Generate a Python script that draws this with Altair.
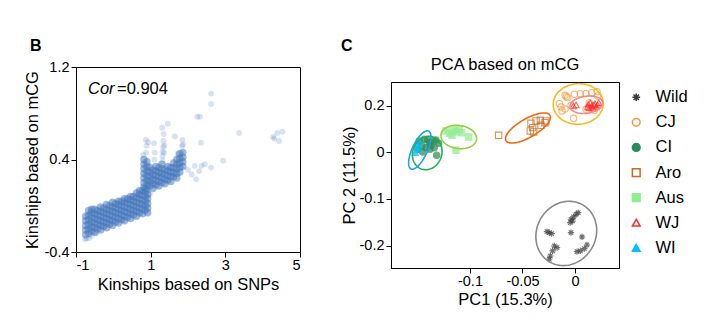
import altair as alt
import numpy as np
import pandas as pd

FONT = "Liberation Sans"

# ---------------- Panel B data (kinship scatter) ----------------
# dense band: x column -> y values
B_BAND_COLS = {
    -0.74: [-0.25, -0.21, -0.17, -0.13, -0.09],
    -0.66: [-0.24, -0.20, -0.16, -0.12, -0.08, -0.04],
    -0.58: [-0.22, -0.18, -0.14, -0.10, -0.06, -0.03],
    -0.50: [-0.23, -0.19, -0.15, -0.11, -0.07, -0.03],
    -0.42: [-0.20, -0.16, -0.12, -0.08, -0.04],
    -0.34: [-0.21, -0.17, -0.13, -0.09, -0.05, -0.01],
    -0.26: [-0.18, -0.14, -0.10, -0.06, -0.02],
    -0.18: [-0.19, -0.15, -0.11, -0.07, -0.03, 0.01],
    -0.10: [-0.16, -0.12, -0.08, -0.04, 0.00],
    -0.02: [-0.17, -0.13, -0.09, -0.05, -0.01, 0.03],
    0.06: [-0.14, -0.10, -0.06, -0.02, 0.02],
    0.14: [-0.15, -0.11, -0.07, -0.03, 0.01, 0.04],
    0.22: [-0.12, -0.08, -0.04, 0.00, 0.04],
    0.30: [-0.13, -0.09, -0.05, -0.01, 0.03, 0.06],
    0.38: [-0.10, -0.06, -0.02, 0.02, 0.06],
    0.46: [-0.11, -0.07, -0.03, 0.01, 0.05, 0.08],
    0.54: [-0.08, -0.04, 0.00, 0.04, 0.08],
    0.62: [-0.09, -0.05, -0.01, 0.03, 0.07, 0.11],
    0.70: [-0.06, -0.02, 0.02, 0.06, 0.10, 0.13],
    0.78: [-0.07, -0.03, 0.01, 0.05, 0.09, 0.13],
    0.86: [-0.04, 0.00, 0.04, 0.08, 0.12, 0.15],
    0.92: [-0.06, -0.02, 0.02, 0.06, 0.10],
    0.82: [0.16, 0.20, 0.24, 0.28, 0.32, 0.36, 0.40],
    0.90: [0.14, 0.18, 0.22, 0.26, 0.30, 0.34, 0.38],
    0.98: [0.17, 0.21, 0.25, 0.29, 0.33],
    1.06: [0.15, 0.19, 0.23, 0.27, 0.31],
    1.14: [0.18, 0.22, 0.26, 0.30, 0.34],
    1.22: [0.17, 0.21, 0.25, 0.29, 0.33],
    1.30: [0.20, 0.24, 0.28, 0.32, 0.36],
    1.38: [0.19, 0.23, 0.27, 0.31],
    1.46: [0.22, 0.26, 0.30, 0.34],
    1.54: [0.21, 0.25, 0.29, 0.33],
    1.62: [0.25, 0.29, 0.33, 0.37],
    1.70: [0.24, 0.28, 0.32, 0.36, 0.40],
    1.78: [0.29, 0.33, 0.37, 0.41, 0.45],
    1.86: [0.34, 0.38, 0.42, 0.46],
}
# sparse / outlying kinship pairs
B_SPARSE_X = [1.32, 1.32, 1.32, 1.33, 1.34, 1.35, 1.36, 1.37, 1.10, 1.11, 1.09,
              0.88, 0.89, 0.87, 0.80, 1.84, 1.85, 1.72, 2.00, 2.18, 2.45, 2.62,
              2.22, 2.94, 2.36, 2.10, 2.30, 2.62, 2.62, 2.25, 2.32, 1.46, 1.31,
              1.87, 2.35, 3.37, 4.28, 4.39, 4.53, 4.44, 4.31, 0.93, 1.65,
              -0.76, -0.72, -0.65, -0.58, -0.45, 0.95, 0.98]
B_SPARSE_Y = [0.39, 0.43, 0.47, 0.51, 0.56, 0.62, 0.46, 0.52, 0.40, 0.46, 0.54,
              0.46, 0.52, 0.57, 0.44, 0.52, 0.57, 0.45, 0.31, 0.345, 0.36, 0.33,
              0.23, 0.39, 0.345, 0.27, 0.30, 0.97, 0.88, 0.77, 0.77, 0.71, 0.675,
              0.53, 0.545, 0.63, 0.595, 0.63, 0.64, 0.56, 0.58, 0.55, 0.60,
              -0.29, -0.28, -0.28, -0.26, -0.24, 0.20, 0.10]
B_COR_LABEL = "Cor"
B_COR_VALUE = "=0.904"

band_rows = [(x, y) for x, ys in B_BAND_COLS.items() for y in ys]
df_band = pd.DataFrame(band_rows, columns=["x", "y"])
df_sparse = pd.DataFrame({"x": B_SPARSE_X, "y": B_SPARSE_Y})

# ---------------- Panel C data (PCA) ----------------
GROUPS = ["Wild", "CJ", "CI", "Aro", "Aus", "WJ", "WI"]
PC = {
    "Wild": ([-0.0038, -0.0022, -0.0045, -0.0013, 0.0010, 0.0031, -0.0245, -0.0267, -0.0222, -0.0038,
              0.0067, -0.0197, -0.0171, -0.0213, -0.0235, -0.0245, 0.0051, 0.0089, 0.0114, 0.0019],
             [-0.1432, -0.1468, -0.1504, -0.1383, -0.1326, -0.1291, -0.1717, -0.1696, -0.1738, -0.1717,
              -0.1809, -0.2000, -0.2036, -0.2106, -0.2213, -0.2283, -0.2106, -0.2057, -0.1979, -0.2121]),
    "CJ": ([-0.0095, -0.0083, -0.0070, -0.0006, 0.0051, 0.0105, 0.0159, 0.0210, 0.0216, -0.0149,
            -0.0133, -0.0124, -0.0095, -0.0038, -0.0013, 0.0105, 0.0184, 0.0136],
           [0.2465, 0.2404, 0.2361, 0.2509, 0.2535, 0.2535, 0.2578, 0.2622, 0.2435, 0.2100,
            0.1957, 0.1783, 0.1870, 0.2030, 0.1465, 0.1857, 0.1813, 0.2143]),
    "CI": ([-0.1483, -0.1457, -0.1435, -0.1403, -0.1387, -0.1355, -0.1324, -0.1298, -0.1419, -0.1381,
            -0.1340, -0.1317, -0.1450, -0.1498, -0.1371],
           [0.0478, 0.0261, 0.0552, 0.0522, 0.0404, 0.0478, 0.0522, 0.0378, 0.0187, 0.0117,
            0.0187, -0.0070, 0.0000, 0.0117, 0.0291]),
    "Aro": ([-0.0727, -0.0426, -0.0419, -0.0371, -0.0324, -0.0330, -0.0276, -0.0403, -0.0393, -0.0286],
            [0.0726, 0.0913, 0.1248, 0.1348, 0.1161, 0.1378, 0.1348, 0.1057, 0.0870, 0.1274]),
    "Aus": ([-0.1229, -0.1197, -0.1159, -0.1127, -0.1102, -0.1079, -0.1171, -0.1012, -0.1133],
            [0.0913, 0.0813, 0.0957, 0.0870, 0.0987, 0.0839, 0.0726, 0.0652, 0.0074]),
    "WJ": ([-0.0016, 0.0010, 0.0127, 0.0146, 0.0159, 0.0178, 0.0190, 0.0200, 0.0216, 0.0171, 0.0136,
            0.0226, 0.0121],
           [0.2000, 0.2043, 0.2074, 0.2143, 0.2000, 0.2043, 0.2100, 0.1957, 0.2043, 0.1900, 0.1926,
            0.2143, 0.1957]),
    "WI": ([-0.1508, -0.1489, -0.1521, -0.1476, -0.1498],
           [0.0335, 0.0187, -0.0015, 0.0435, 0.0117]),
}
# confidence ellipses: centre x, centre y, semi-axes (in PC1 units), rotation (deg)
ELL_CX = [-0.0083, 0.0031, -0.1407, -0.0448, -0.1107, 0.0108, -0.1478]
ELL_CY = [-0.1734, 0.2087, -0.0021, 0.1043, 0.0652, 0.2052, 0.0087]
ELL_A = [0.0314, 0.0238, 0.0162, 0.0242, 0.0171, 0.0157, 0.0199]
ELL_B = [0.0281, 0.0193, 0.0138, 0.0088, 0.0110, 0.0081, 0.0072]
ELL_ROT = [60, 3, 70, 30, -8, 8, 65]

PT_STROKE = ["#3a3a3a", "#f39a3c", "#2e8b57", "#c8691f", "#90ee90", "#ff2a2a", "#00bfff"]
PT_FILL = ["transparent", "transparent", "#2e8b57", "transparent", "#90ee90", "transparent", "#00bfff"]
ELL_COL = ["#8a8a8a", "#fbb917", "#1fb050", "#fa650c", "#9ccc45", "#f28a8a", "#1ba3e8"]
ASTERISK = "M-1,0L1,0M0,-1L0,1M-0.7,-0.7L0.7,0.7M-0.7,0.7L0.7,-0.7"
SHAPES = [ASTERISK, "circle", "circle", "square", "square", "triangle-up", "triangle-up"]
C_TITLE = "PCA based on mCG"

rows = []
for g in GROUPS:
    xs, ys = PC[g]
    for a, b in zip(xs, ys):
        rows.append({"group": g, "pc1": a, "pc2": b})
df_pc = pd.DataFrame(rows)

# ---------------- scales ----------------
WB, HB = 224, 185
WC, HC = 228, 186
XC_DOM = [-0.1752, 0.0419]
YC_DOM = [-0.247, 0.0, 0.304]       # axis is drawn with uneven spacing above / below 0
YC_RANGE = [HC, 70, 0]

px_x = WC / (XC_DOM[1] - XC_DOM[0])
px_up = (YC_RANGE[1] - YC_RANGE[2]) / (YC_DOM[2] - YC_DOM[1])
px_dn = (YC_RANGE[0] - YC_RANGE[1]) / (YC_DOM[1] - YC_DOM[0])


def y_to_px(v):
    return v * px_up if v >= 0 else v * px_dn


def px_to_y(p):
    return p / px_up if p >= 0 else p / px_dn


t = np.linspace(0, 2 * np.pi, 121)
ell_rows = []
for i, g in enumerate(GROUPS):
    A, Bv = ELL_A[i] * px_x, ELL_B[i] * px_x
    th = np.radians(ELL_ROT[i])
    u, v = A * np.cos(t), Bv * np.sin(t)
    X = u * np.cos(th) - v * np.sin(th)
    Y = u * np.sin(th) + v * np.cos(th)
    cy = y_to_px(ELL_CY[i])
    for k in range(len(t)):
        ell_rows.append({"group": g, "i": k, "pc1": ELL_CX[i] + X[k] / px_x,
                         "pc2": px_to_y(cy + Y[k])})
df_ell = pd.DataFrame(ell_rows)

# ---------------- Panel B chart ----------------
xb = alt.X("x:Q", scale=alt.Scale(domain=[-1, 5], nice=False, zero=False),
           axis=alt.Axis(values=[-1, 1, 3, 5], title="Kinships based on SNPs",
                         labelExpr="'' + datum.value", labelPadding=1, titlePadding=5))
yb = alt.Y("y:Q", scale=alt.Scale(domain=[-0.4, 1.2], nice=False, zero=False),
           axis=alt.Axis(values=[-0.4, 0.4, 1.2], title="Kinships based on mCG",
                         labelExpr="'' + datum.value", labelPadding=2, titlePadding=4))

band = alt.Chart(df_band).mark_circle(size=56, color="#4576bb", opacity=0.52).encode(x=xb, y=yb)
sparse = alt.Chart(df_sparse).mark_circle(size=34, color="#4a7cc2", opacity=0.22).encode(x=xb, y=yb)

lab_b = alt.Chart(pd.DataFrame({"t": ["B"]})).mark_text(
    align="left", baseline="middle", fontSize=16, fontWeight="bold", font=FONT
).encode(x=alt.value(-46), y=alt.value(-21), text="t:N")
cor1 = alt.Chart(pd.DataFrame({"t": [B_COR_LABEL]})).mark_text(
    align="left", baseline="middle", fontSize=16.5, fontStyle="italic", font=FONT
).encode(x=alt.value(12), y=alt.value(22), text="t:N")
cor2 = alt.Chart(pd.DataFrame({"t": [B_COR_VALUE]})).mark_text(
    align="left", baseline="middle", fontSize=16.5, font=FONT
).encode(x=alt.value(41), y=alt.value(22), text="t:N")

panel_b = alt.layer(band, sparse, cor1, cor2, lab_b).properties(width=WB, height=HB)

# ---------------- Panel C chart ----------------
xc = alt.X("pc1:Q", scale=alt.Scale(domain=XC_DOM, nice=False, zero=False),
           axis=alt.Axis(values=[-0.1, -0.05, 0], title="PC1 (15.3%)",
                         labelExpr="'' + datum.value", labelPadding=1, titlePadding=4))
yc = alt.Y("pc2:Q", scale=alt.Scale(domain=YC_DOM, range=YC_RANGE, nice=False, zero=False),
           axis=alt.Axis(values=[-0.2, -0.1, 0, 0.2], title="PC 2 (11.5%)",
                         labelExpr="'' + datum.value", labelPadding=2, titlePadding=2))

leg = alt.Legend(title=None, orient="none", legendX=237, legendY=7, padding=0, labelFontSize=16.5,
                 symbolSize=60, rowPadding=8.1, labelOffset=11, symbolStrokeWidth=1.5,
                 symbolOpacity=1, labelFont=FONT, labelColor="black")

points = alt.Chart(df_pc).mark_point(size=40, strokeWidth=1.1, opacity=0.72).encode(
    x=xc, y=yc,
    shape=alt.Shape("group:N", scale=alt.Scale(domain=GROUPS, range=SHAPES), legend=leg),
    stroke=alt.Stroke("group:N", scale=alt.Scale(domain=GROUPS, range=PT_STROKE), legend=leg),
    fill=alt.Fill("group:N", scale=alt.Scale(domain=GROUPS, range=PT_FILL), legend=leg),
)

ell_layers = []
for i, g in enumerate(GROUPS):
    ell_layers.append(
        alt.Chart(df_ell[df_ell["group"] == g]).mark_line(strokeWidth=1.6).encode(
            x=xc, y=yc, order="i:Q", color=alt.value(ELL_COL[i]))
    )

lab_c = alt.Chart(pd.DataFrame({"t": ["C"]})).mark_text(
    align="left", baseline="middle", fontSize=16, fontWeight="bold", font=FONT
).encode(x=alt.value(-50), y=alt.value(-36), text="t:N")
title_c = alt.Chart(pd.DataFrame({"t": [C_TITLE]})).mark_text(
    align="center", baseline="middle", fontSize=16.5, font=FONT, color="black"
).encode(x=alt.value(WC / 2), y=alt.value(-17), text="t:N")

panel_c = alt.layer(points, *ell_layers, lab_c, title_c).properties(width=WC, height=HC)

spacer = alt.Chart(pd.DataFrame({"a": [0]})).mark_point(opacity=0).encode(
    x=alt.value(0), y=alt.value(0)
).properties(width=WC, height=15, view=alt.ViewBackground(stroke=None))

col_c = alt.vconcat(spacer, panel_c, spacing=0, bounds="flush").resolve_legend(
    shape="independent", stroke="independent", fill="independent")

chart = alt.hconcat(panel_b, col_c, spacing=39).resolve_legend(
    shape="independent", stroke="independent", fill="independent"
).properties(
    padding={"left": 23, "top": 37, "right": 5, "bottom": 5}
).configure(font=FONT).configure_view(
    stroke="black", strokeWidth=1
).configure_axis(
    grid=False, domainColor="black", tickColor="black", labelColor="black", titleColor="black",
    tickSize=5, labelFontSize=14.5, titleFontSize=16.5, titleFontWeight="normal",
    labelFont=FONT, titleFont=FONT
)

chart.save("out.html", embed_options={"renderer": "svg", "actions": False})
